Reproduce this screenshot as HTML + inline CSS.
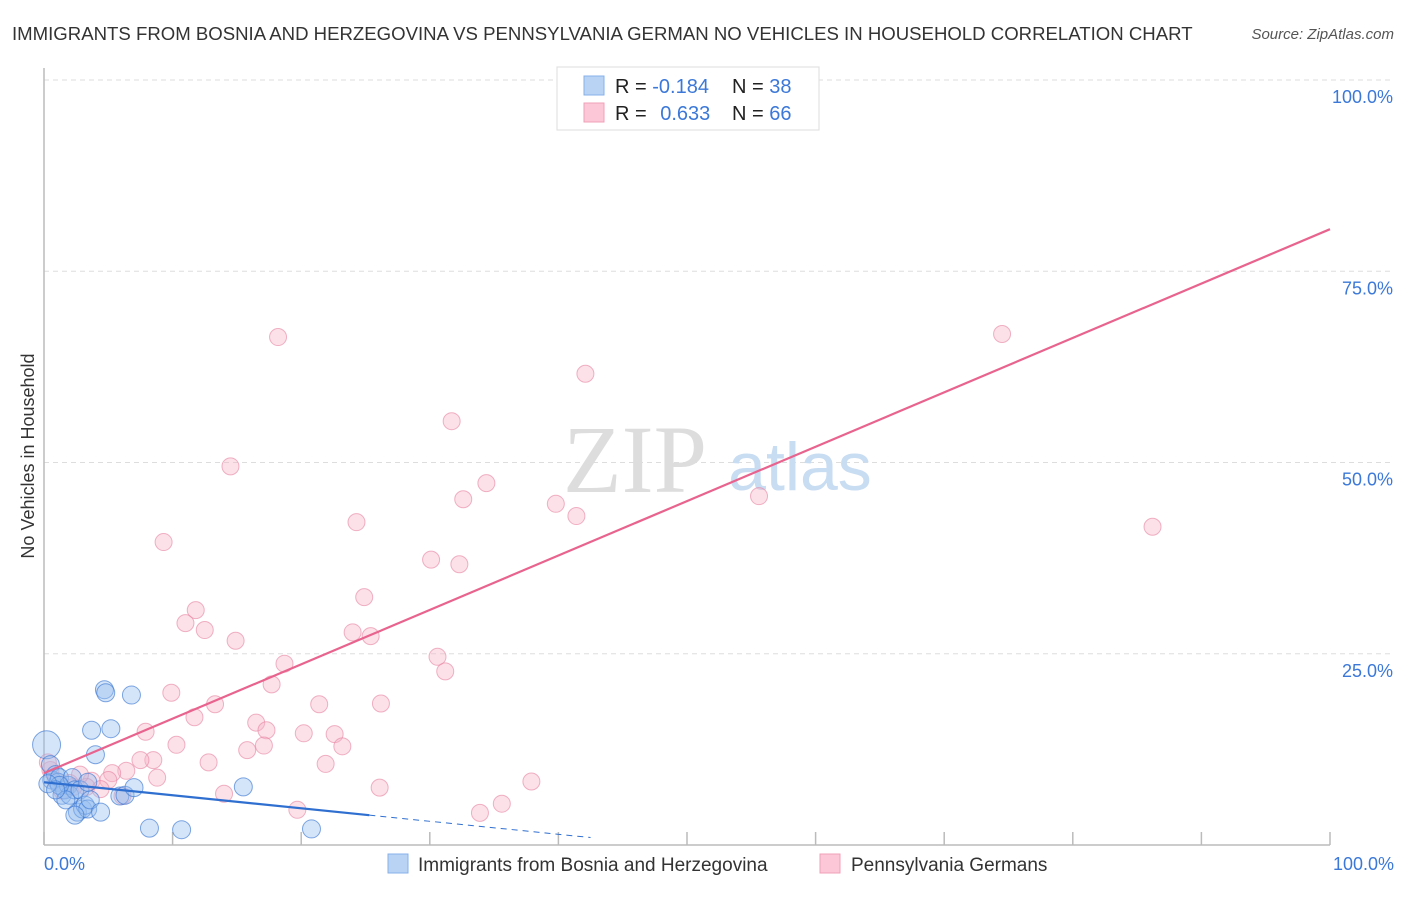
<!DOCTYPE html>
<html><head><meta charset="utf-8"><style>
body{margin:0;background:#fff;font-family:"Liberation Sans",sans-serif}
svg text{font-family:"Liberation Sans",sans-serif}
</style></head><body>
<svg width="1406" height="892" viewBox="0 0 1406 892">
<text x="12" y="40" font-size="18.6" fill="#333">IMMIGRANTS FROM BOSNIA AND HERZEGOVINA VS PENNSYLVANIA GERMAN NO VEHICLES IN HOUSEHOLD CORRELATION CHART</text>
<text x="1394" y="39" font-size="15" fill="#555" font-style="italic" text-anchor="end">Source: ZipAtlas.com</text>
<g id="grid"></g>
<text x="635" y="492" font-size="96" fill="#ddd" text-anchor="middle" style="font-family:'Liberation Serif',serif">ZIP</text>
<text x="800" y="490" font-size="68" fill="#c8dcf2" text-anchor="middle">atlas</text>
<g id="pts"></g>
<g id="lines"></g>
<text transform="translate(34,456) rotate(-90)" font-size="18" fill="#333" text-anchor="middle">No Vehicles in Household</text>
<text x="44" y="870" font-size="18" fill="#3b78d8">0.0%</text>
<text x="1394" y="870" font-size="18" fill="#3b78d8" text-anchor="end">100.0%</text>
<g id="ylab"></g>
<g>
<rect x="557" y="67" width="262" height="63" fill="#fff" stroke="#ddd"/>
<rect x="584" y="76" width="20" height="19" fill="#b9d3f5" stroke="#86b0e8"/>
<rect x="584" y="103" width="20" height="19" fill="#fcc8d8" stroke="#f0a0b8"/>
<text x="615" y="93" font-size="20" fill="#222">R = <tspan fill="#3b78d8">-0.184</tspan></text>
<text x="732" y="93" font-size="20" fill="#222">N = <tspan fill="#3b78d8">38</tspan></text>
<text x="615" y="120" font-size="20" fill="#222">R = <tspan fill="#3b78d8" dx="8">0.633</tspan></text>
<text x="732" y="120" font-size="20" fill="#222">N = <tspan fill="#3b78d8">66</tspan></text>
</g>
<g>
<rect x="388" y="854" width="20" height="19" fill="#b9d3f5" stroke="#86b0e8"/>
<text x="418" y="871" font-size="19" fill="#333">Immigrants from Bosnia and Herzegovina</text>
<rect x="820" y="854" width="20" height="19" fill="#fcc8d8" stroke="#f0a0b8"/>
<text x="851" y="871" font-size="19" fill="#333">Pennsylvania Germans</text>
</g>
</svg>
<script>
const blueX=[0.2,0.5,0.6,0.9,1.1,1.2,1.4,1.6,1.9,2.0,2.2,2.4,2.6,2.8,3.0,3.2,3.4,3.6,3.7,4.0,4.4,4.7,4.8,5.2,5.9,6.3,6.8,7.0,8.2,10.7,15.5,20.8,3.4,2.4,1.2,0.3,1.7,0.9];
const blueY=[13.1,10.5,8.5,9.2,8.2,8.8,6.5,7.2,7.8,6.5,8.8,7.2,4.3,7.2,4.7,5.2,4.7,5.9,15.0,11.8,4.3,20.3,19.9,15.2,6.4,6.5,19.6,7.5,2.2,2.0,7.6,2.1,8.2,3.9,7.8,8.0,5.9,7.2];
const blueR=[14,9,9,9,9,9,9,9,9,9,9,9,9,9,9,9,9,9,9,9,9,9,9,9,9,9,9,9,9,9,9,9,9,9,9,9,9,9];
const pinkX=[18.2,74.5,42.1,31.7,14.5,34.4,32.6,55.6,39.8,41.4,86.2,24.3,9.3,30.1,32.3,24.9,11.8,11.0,12.5,24.0,25.4,14.9,18.7,30.6,31.2,17.7,9.9,13.3,21.4,26.2,11.7,16.5,17.3,7.9,20.2,22.6,10.3,17.1,23.2,15.8,8.5,7.5,12.8,21.9,8.8,6.4,5.3,5.0,3.7,3.3,2.3,1.4,0.9,0.5,0.3,14.0,26.1,37.9,35.6,19.7,33.9,53.8,6.1,4.4,2.0,2.8];
const pinkY=[66.4,66.8,61.6,55.4,49.5,47.3,45.2,45.6,44.6,43.0,41.6,42.2,39.6,37.3,36.7,32.4,30.7,29.0,28.1,27.8,27.3,26.7,23.7,24.6,22.7,21.0,19.9,18.4,18.4,18.5,16.7,16.0,15.0,14.8,14.6,14.5,13.1,13.0,12.9,12.4,11.1,11.1,10.8,10.6,8.8,9.7,9.4,8.5,8.4,7.6,7.6,7.1,8.4,9.8,10.8,6.7,7.5,8.3,5.4,4.6,4.2,100.0,6.4,7.3,8.1,9.2];
const pinkLine=[9.4,80.5];
const blueLine=[8.2,-0.17];
const blueSolidEnd=25.3, blueDashEnd=42.5;
const yTicks=[25,50,75,100];
const yTickLabels=["25.0%","50.0%","75.0%","100.0%"];
const xTicks=[0,10,20,30,40,50,60,70,80,90,100];
const NS="http://www.w3.org/2000/svg";
const sx=v=>44+v*12.86, sy=v=>845-v*7.65;
function mk(t,a,p){const e=document.createElementNS(NS,t);for(const k in a)e.setAttribute(k,a[k]);p.appendChild(e);return e;}
const g=document.getElementById('grid');
yTicks.forEach((t,i)=>{const l=mk('line',{x1:44,x2:1394,y1:sy(t),y2:sy(t),stroke:'#ddd','stroke-dasharray':'5,4'},g);


const tx=mk('text',{x:1393,y:sy(t)+23,'font-size':18,fill:'#3b78d8','text-anchor':'end'},document.getElementById('ylab'));tx.textContent=yTickLabels[i];

});
const ax=mk('line',{x1:44,x2:44,y1:68,y2:845,stroke:'#bbb','stroke-width':1.5},g);


const bx=mk('line',{x1:44,x2:1330,y1:845,y2:845,stroke:'#bbb','stroke-width':1.5},g);


xTicks.forEach(t=>{const l=mk('line',{x1:sx(t),x2:sx(t),y1:832,y2:845,stroke:'#bbb','stroke-width':1.5},g);

});
const P=document.getElementById('pts');
pinkX.forEach((x,i)=>{const c=mk('circle',{cx:sx(x),cy:sy(pinkY[i]),r:8.5,fill:'rgba(248,180,200,0.4)',stroke:'rgba(230,130,160,0.6)','stroke-width':1},P);

});
blueX.forEach((x,i)=>{const c=mk('circle',{cx:sx(x),cy:sy(blueY[i]),r:blueR[i],fill:'rgba(150,190,240,0.4)',stroke:'rgba(60,120,210,0.65)','stroke-width':1},P);

});
const L=document.getElementById('lines');
const pl=mk('line',{x1:sx(0),y1:sy(pinkLine[0]),x2:sx(100),y2:sy(pinkLine[1]),stroke:'#e8648f','stroke-width':2.2},L);


const bf=v=>blueLine[0]+blueLine[1]*v;
const bl=mk('line',{x1:sx(0),y1:sy(bf(0)),x2:sx(blueSolidEnd),y2:sy(bf(blueSolidEnd)),stroke:'#2f6fd0','stroke-width':2.2},L);


const bd=mk('line',{x1:sx(blueSolidEnd),y1:sy(bf(blueSolidEnd)),x2:sx(blueDashEnd),y2:sy(bf(blueDashEnd)),stroke:'#2f6fd0','stroke-width':1,'stroke-dasharray':'6,5'},L);


</script>
</body></html>
